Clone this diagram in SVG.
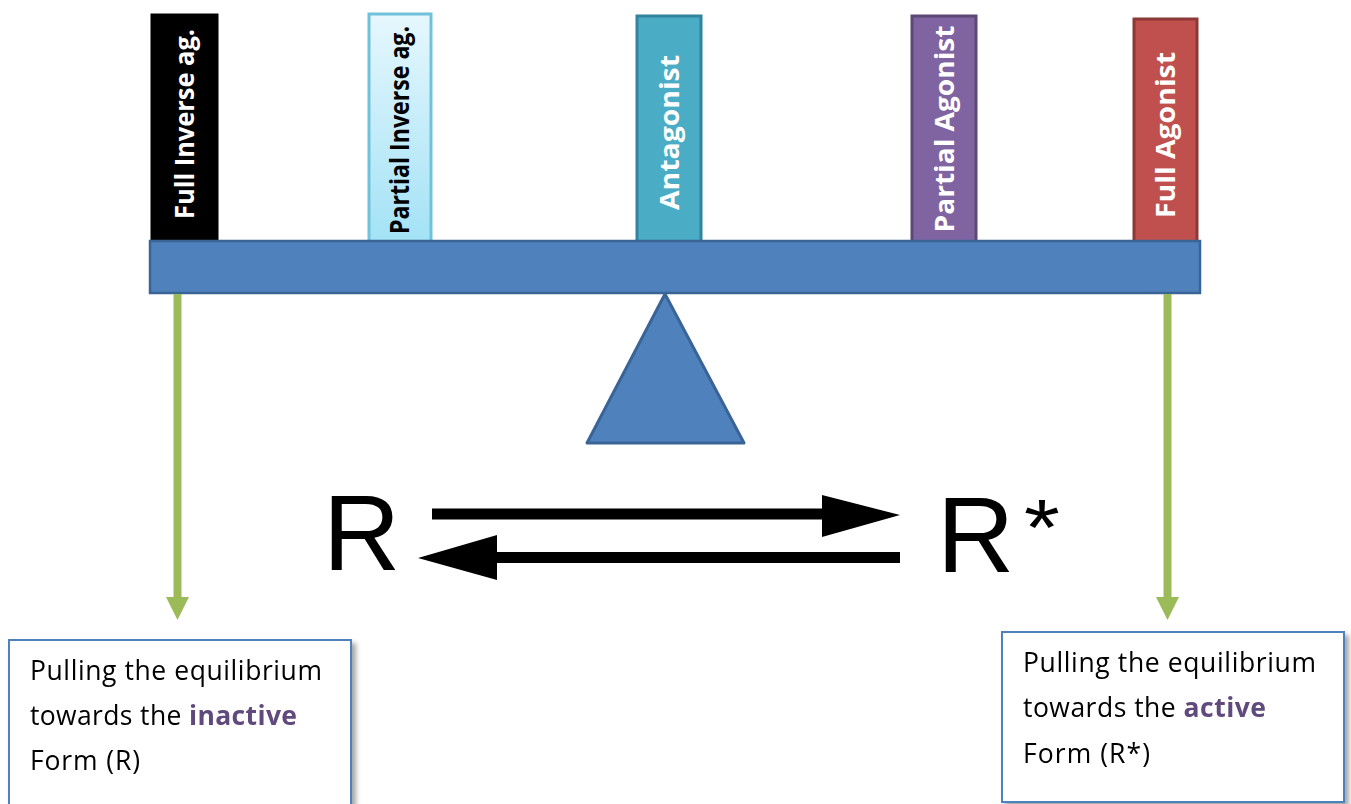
<svg xmlns="http://www.w3.org/2000/svg" width="1351" height="804" viewBox="0 0 1351 804">
<style>
.bar{stroke-width:3}
.lbl{font-family:"Open Sans","Liberation Sans",sans-serif;font-weight:bold;font-size:27px;text-anchor:middle}
.box{fill:#fff;stroke:#4f81bd;stroke-width:2}
.bt{font-family:"Open Sans","Liberation Sans",sans-serif;font-size:26.5px;fill:#000}
.em{font-weight:bold;fill:#604a7b}
.rr{font-family:"Liberation Sans",Arial,sans-serif;font-size:107px;fill:#000}
.green{stroke:#9bbb59;stroke-width:8;fill:none}
.gh{fill:#9bbb59}
.eq{stroke:#000;stroke-width:11;fill:none}
</style>
<defs>
<linearGradient id="pinv" x1="0" y1="0" x2="0" y2="1">
<stop offset="0" stop-color="#e6f7fd"/>
<stop offset="1" stop-color="#a3e2f6"/>
</linearGradient>
<filter id="sh" x="-10%" y="-10%" width="125%" height="125%">
<feDropShadow dx="4" dy="4" stdDeviation="2.5" flood-color="#000" flood-opacity="0.35"/>
</filter>
</defs>

<g id="bar-full-inverse">
<rect class="bar" x="152" y="15" width="65" height="228" fill="#000" stroke="#000"/>
<text class="lbl" fill="#fff" transform="translate(194,124) rotate(-90)" textLength="190" lengthAdjust="spacingAndGlyphs">Full Inverse ag.</text>
</g>
<g id="bar-partial-inverse">
<rect class="bar" x="369" y="14" width="62" height="229" fill="url(#pinv)" stroke="#6fc2da"/>
<text class="lbl" fill="#000" transform="translate(409,130) rotate(-90)" textLength="208" lengthAdjust="spacingAndGlyphs">Partial Inverse ag.</text>
</g>
<g id="bar-antagonist">
<rect class="bar" x="637" y="16" width="64" height="227" fill="#4bacc6" stroke="#31849b"/>
<text class="lbl" fill="#fff" transform="translate(679,132.5) rotate(-90)" textLength="155" lengthAdjust="spacingAndGlyphs">Antagonist</text>
</g>
<g id="bar-partial-agonist">
<rect class="bar" x="912" y="16" width="64" height="227" fill="#8064a2" stroke="#5c4776"/>
<text class="lbl" fill="#fff" transform="translate(954,129) rotate(-90)" textLength="207" lengthAdjust="spacingAndGlyphs">Partial Agonist</text>
</g>
<g id="bar-full-agonist">
<rect class="bar" x="1134" y="19" width="63" height="225" fill="#c0504d" stroke="#8c3836"/>
<text class="lbl" fill="#fff" transform="translate(1175,135) rotate(-90)" textLength="166" lengthAdjust="spacingAndGlyphs">Full Agonist</text>
</g>

<g id="beam">
<rect x="150" y="241" width="1050" height="52" fill="#4f81bd" stroke="#3a6496" stroke-width="2.5"/>
</g>
<g id="fulcrum">
<polygon points="665,294 587,443 744,443" fill="#4f81bd" stroke="#3a6496" stroke-width="3" stroke-linejoin="round"/>
</g>

<g id="label-R">
<text class="rr" x="323" y="570">R</text>
</g>
<g id="label-Rstar">
<text class="rr" x="937" y="572">R</text>
<text class="rr" x="1026" y="555" style="font-size:80px" transform="translate(1040 0) scale(1.15 1) translate(-1040 0)">*</text>
</g>

<g id="box-inactive" filter="url(#sh)">
<rect class="box" x="9" y="640" width="342" height="180"/>
<text class="bt" x="30" y="680" textLength="292">Pulling the equilibrium</text>
<text class="bt" x="30" y="725" textLength="267">towards the <tspan class="em">inactive</tspan></text>
<text class="bt" x="30" y="770" textLength="110">Form (R)</text>
</g>
<g id="box-active" filter="url(#sh)">
<rect class="box" x="1002" y="632" width="342" height="170"/>
<text class="bt" x="1023" y="672" textLength="293">Pulling the equilibrium</text>
<text class="bt" x="1023" y="717" textLength="243">towards the <tspan class="em">active</tspan></text>
<text class="bt" x="1023" y="763" textLength="127">Form (R*)</text>
</g>

<g id="connectors">
<line class="green" x1="177.5" y1="294" x2="177.5" y2="599"/>
<polygon class="gh" points="166,597 189,597 177.5,620"/>
<line class="green" x1="1167.5" y1="294" x2="1167.5" y2="599"/>
<polygon class="gh" points="1156,597 1179,597 1167.5,620"/>
<line class="eq" x1="432" y1="514" x2="826" y2="514"/>
<polygon points="822,495 900,515 822,537" fill="#000"/>
<line class="eq" x1="494" y1="557.5" x2="900" y2="557.5"/>
<polygon points="497,535 418,558 497,580" fill="#000"/>
</g>
</svg>
